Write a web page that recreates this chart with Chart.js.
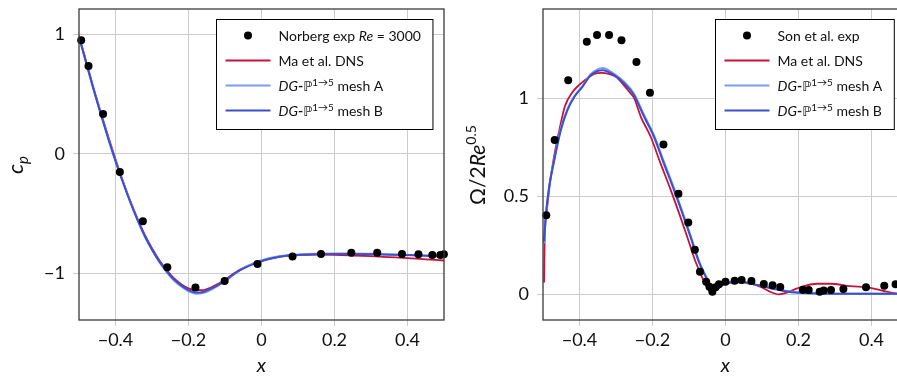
<!DOCTYPE html>
<html>
<head>
<meta charset="utf-8">
<script src="https://cdn.jsdelivr.net/npm/chart.js@4.4.1/dist/chart.umd.min.js"></script>
<style>
  body{margin:0;width:897px;height:376px;overflow:hidden;background:#fff;position:relative}
  #left{position:absolute;left:0;top:0}
  #right{position:absolute;left:450px;top:0}
</style>
</head>
<body>
<canvas id="left" width="450" height="376"></canvas>
<canvas id="right" width="470" height="376"></canvas>
<script>
// =========================
// DATA
// =========================

const ticksX  = [-0.4, -0.2, 0, 0.2, 0.4];
const ticksCp = [-1, 0, 1];
const ticksOm = [0, 0.5, 1];

// left : pressure coefficient
const cpExpX = [-0.494,-0.474,-0.434,-0.388,-0.325,-0.258,-0.181,-0.101,-0.011,0.085,0.163,0.246,0.317,0.385,0.430,0.468,0.490,0.4997];
const cpExpY = [0.951,0.736,0.335,-0.151,-0.563,-0.948,-1.119,-1.063,-0.921,-0.859,-0.837,-0.828,-0.828,-0.837,-0.840,-0.845,-0.845,-0.840];

const cpX = [-0.5,-0.49,-0.48,-0.46,-0.44,-0.42,-0.40,-0.38,-0.36,-0.34,-0.32,-0.30,-0.28,-0.26,-0.24,-0.22,-0.20,-0.18,-0.16,-0.14,
             -0.12,-0.10,-0.08,-0.06,-0.04,-0.02,0,0.02,0.04,0.06,0.08,0.10,0.15,0.20,0.25,0.30,0.35,0.40,0.45,0.50];
const cpDns   = [0.99,0.88,0.77,0.55,0.345,0.145,-0.045,-0.225,-0.39,-0.54,-0.675,-0.79,-0.89,-0.97,-1.04,-1.09,-1.125,-1.14,-1.14,-1.12,
                 -1.09,-1.055,-1.01,-0.97,-0.94,-0.915,-0.895,-0.878,-0.865,-0.856,-0.85,-0.846,-0.843,-0.845,-0.85,-0.856,-0.864,-0.872,-0.882,-0.892];
const cpMeshA = [0.98,0.87,0.76,0.54,0.335,0.135,-0.055,-0.23,-0.395,-0.55,-0.69,-0.805,-0.905,-0.99,-1.06,-1.11,-1.15,-1.17,-1.165,-1.14,
                 -1.105,-1.065,-1.02,-0.975,-0.94,-0.912,-0.89,-0.872,-0.86,-0.852,-0.846,-0.842,-0.836,-0.834,-0.834,-0.836,-0.84,-0.845,-0.85,-0.855];
const cpMeshB = [0.98,0.87,0.76,0.54,0.33,0.13,-0.06,-0.235,-0.40,-0.55,-0.685,-0.80,-0.90,-0.98,-1.05,-1.10,-1.14,-1.16,-1.155,-1.13,
                 -1.10,-1.06,-1.015,-0.975,-0.945,-0.92,-0.898,-0.88,-0.866,-0.856,-0.849,-0.845,-0.84,-0.838,-0.838,-0.84,-0.843,-0.847,-0.852,-0.858];

// right : vorticity
const omExpX = [-0.491,-0.468,-0.431,-0.380,-0.352,-0.319,-0.285,-0.244,-0.207,-0.170,-0.129,-0.102,-0.084,-0.070,-0.053,-0.044,-0.036,-0.027,
                -0.018,0.0,0.025,0.044,0.071,0.105,0.129,0.150,0.212,0.228,0.258,0.269,0.289,0.323,0.385,0.435,0.466];
const omExpY = [0.403,0.787,1.092,1.289,1.323,1.323,1.296,1.185,1.029,0.765,0.513,0.367,0.228,0.115,0.064,0.039,0.013,0.036,
                0.051,0.064,0.069,0.073,0.068,0.053,0.046,0.037,0.024,0.022,0.013,0.020,0.022,0.027,0.036,0.044,0.051];

const omDnsX = [-0.497,-0.4955,-0.49,-0.48,-0.47,-0.455,-0.44,-0.42,-0.40,-0.38,-0.36,-0.34,-0.32,-0.30,-0.28,-0.26,-0.25,-0.232,-0.205,-0.178,
                -0.150,-0.127,-0.105,-0.082,-0.06,-0.045,-0.04,-0.03,-0.02,0,0.02,0.05,0.08,0.10,0.12,0.146,0.17,0.196,0.22,0.25,
                0.287,0.342,0.397,0.433,0.47,0.5];
const omDns  = [0.06,0.28,0.42,0.58,0.70,0.84,0.96,1.03,1.07,1.10,1.125,1.13,1.125,1.11,1.07,1.025,1.0,0.906,0.804,0.668,
                0.532,0.413,0.294,0.166,0.07,0.02,0.01,0.02,0.035,0.055,0.06,0.062,0.05,0.035,0.015,0.0,0.01,0.03,0.045,0.054,
                0.054,0.042,0.033,0.017,0.003,0.0];

const omX = [-0.497,-0.492,-0.483,-0.469,-0.451,-0.433,-0.414,-0.392,-0.369,-0.337,-0.305,-0.278,-0.251,-0.223,-0.196,-0.169,-0.141,-0.118,-0.096,-0.073,
             -0.05,-0.036,-0.032,-0.02,-0.01,0,0.02,0.04,0.06,0.08,0.10,0.12,0.14,0.16,0.18,0.20,0.25,0.30,0.40,0.50];
const omMeshA = [0.26,0.40,0.55,0.69,0.85,0.945,1.01,1.062,1.123,1.155,1.125,1.085,1.025,0.915,0.812,0.678,0.542,0.42,0.302,0.172,
                 0.08,0.03,0.02,0.032,0.046,0.054,0.06,0.062,0.057,0.05,0.043,0.035,0.027,0.02,0.014,0.01,0.005,0.003,0.003,0.003];
const omMeshB = [0.27,0.41,0.55,0.685,0.838,0.94,1.008,1.059,1.119,1.144,1.119,1.077,1.017,0.906,0.804,0.668,0.532,0.413,0.294,0.166,
                 0.073,0.022,0.012,0.03,0.045,0.055,0.062,0.064,0.058,0.05,0.042,0.032,0.024,0.017,0.011,0.008,0.004,0.003,0.003,0.003];

// =========================
// STYLE
// =========================

const RED = "#c4133d";
const LIGHT = "#7b9cf2";
const DARK = "#3c50cc";
const GRID = "#cbcbcb";
const FONT = "Lato, 'DejaVu Sans', sans-serif";

const f = (size, style) => (style || "") + " " + size + "px " + FONT;

function zip(xs, ys){
  return xs.map((x,i) => ({x, y: ys[i]}));
}

function fmt(v){
  return (v < 0 ? "\u2212" : "") + Math.abs(v);
}

// text made of pieces (italic, sub / superscript)
function drawRich(ctx, parts, x, y, center){
  let w = 0;
  parts.forEach(p => { ctx.font = p.font; w += ctx.measureText(p.t).width; });
  let cx = center ? x - w/2 : x;
  parts.forEach(p => {
    ctx.font = p.font;
    ctx.fillText(p.t, cx, y + (p.dy || 0));
    cx += ctx.measureText(p.t).width;
  });
  return w;
}

function richWidth(ctx, parts){
  let w = 0;
  parts.forEach(p => { ctx.font = p.font; w += ctx.measureText(p.t).width; });
  return w;
}

function dgLabel(mesh){
  return [
    {t:"DG", font:f(14,"italic")},
    {t:"-", font:f(14,"bold")},
    {t:"\u2119", font:f(13)},
    {t:"1\u21925", font:f(10), dy:-5},
    {t:" mesh " + mesh, font:f(14)}
  ];
}

// =========================
// PLUGINS
// =========================

function boxLegend(rows, rightGap){
  return {
    id:"boxLegend",
    afterDraw(chart){
      const ctx = chart.ctx, a = chart.chartArea;
      ctx.save();
      const maxW = Math.max(...rows.map(r => richWidth(ctx, r.label)));
      const W = 62 + maxW + 12, H = 110;
      const x0 = Math.round(a.right - rightGap - W) + 0.5, y0 = a.top + 10.5;
      ctx.fillStyle = "#fff";
      ctx.fillRect(x0, y0, W, H);
      ctx.strokeStyle = "#000";
      ctx.lineWidth = 1;
      ctx.strokeRect(x0, y0, W, H);
      rows.forEach((r,i) => {
        const cy = y0 + 16 + 25*i;
        if(r.dot){
          ctx.fillStyle = "#000";
          ctx.beginPath();
          ctx.arc(x0 + 31.5, cy, 4, 0, Math.PI*2);
          ctx.fill();
        } else {
          ctx.strokeStyle = r.color;
          ctx.lineWidth = 2;
          ctx.beginPath();
          ctx.moveTo(x0 + 9, cy);
          ctx.lineTo(x0 + 54, cy);
          ctx.stroke();
        }
        ctx.fillStyle = "#111";
        ctx.textBaseline = "alphabetic";
        drawRich(ctx, r.label, x0 + 62, cy + 5, false);
      });
      ctx.restore();
    }
  };
}

function frameAndTitles(yParts, yTitleX){
  return {
    id:"frameAndTitles",
    afterDraw(chart){
      const ctx = chart.ctx, a = chart.chartArea;
      ctx.save();
      ctx.strokeStyle = "#3a3a3a";
      ctx.lineWidth = 1.3;
      ctx.strokeRect(a.left, a.top, a.right - a.left, a.bottom - a.top);

      ctx.fillStyle = "#111";
      ctx.textBaseline = "alphabetic";
      drawRich(ctx, [{t:"x", font:f(20,"italic")}], (a.left + a.right)/2, 372, true);

      ctx.translate(yTitleX, 165);
      ctx.rotate(-Math.PI/2);
      drawRich(ctx, yParts, 0, 0, true);
      ctx.restore();
    }
  };
}

// =========================
// CHART
// =========================

function makeChart(id, cfg){
  const ctx = document.getElementById(id).getContext("2d");

  return new Chart(ctx,{
    type:"scatter",
    data:{
      datasets:[
        {data:cfg.exp, backgroundColor:"#000", borderWidth:0, pointRadius:4, order:0, clip:false},
        {data:cfg.meshB, showLine:true, borderColor:DARK, borderWidth:2, pointRadius:0, order:1, cubicInterpolationMode:"monotone"},
        {data:cfg.meshA, showLine:true, borderColor:LIGHT, borderWidth:2, pointRadius:0, order:2, cubicInterpolationMode:"monotone"},
        {data:cfg.dns, showLine:true, borderColor:RED, borderWidth:1.8, pointRadius:0, order:3, cubicInterpolationMode:"monotone"}
      ]
    },
    options:{
      responsive:false,
      animation:false,
      layout:{padding:{left:0, right:cfg.padRight, top:9, bottom:0}},
      plugins:{legend:{display:false}, tooltip:{enabled:false}},
      scales:{
        x:{
          min:-0.5, max:0.5,
          afterBuildTicks: s => { s.ticks = ticksX.map(v => ({value:v})); },
          afterFit: s => { s.height = 56; s.paddingLeft = 0; s.paddingRight = 0; },
          grid:{color:GRID, lineWidth:1, tickLength:6},
          border:{display:false},
          ticks:{font:{family:FONT, size:18}, color:"#111", padding:3, maxRotation:0, callback:fmt}
        },
        y:{
          min:cfg.yMin, max:cfg.yMax,
          afterBuildTicks: s => { s.ticks = cfg.yTicks.map(v => ({value:v})); },
          afterFit: s => { s.width = cfg.yWidth; s.paddingTop = 0; s.paddingBottom = 0; },
          grid:{color:GRID, lineWidth:1, tickLength:6},
          border:{display:false},
          ticks:{font:{family:FONT, size:18}, color:"#111", padding:8, callback:fmt}
        }
      }
    },
    plugins:[frameAndTitles(cfg.yTitle, cfg.yTitleX), boxLegend(cfg.legend, cfg.legendGap)]
  });
}

makeChart("left",{
  exp: zip(cpExpX, cpExpY),
  dns: zip(cpX, cpDns),
  meshA: zip(cpX, cpMeshA),
  meshB: zip(cpX, cpMeshB),
  yMin:-1.39, yMax:1.213, yTicks:ticksCp,
  yWidth:79, padRight:6,
  yTitle:[{t:"c", font:f(22,"italic")}, {t:"p", font:f(15,"italic"), dy:5}],
  yTitleX:23,
  legendGap:12,
  legend:[
    {dot:true, label:[{t:"Norberg exp ", font:f(14)}, {t:"Re", font:f(14,"italic")}, {t:" = 3000", font:f(14)}]},
    {color:RED, label:[{t:"Ma et al. DNS", font:f(14)}]},
    {color:LIGHT, label:dgLabel("A")},
    {color:DARK, label:dgLabel("B")}
  ]
});

makeChart("right",{
  exp: zip(omExpX, omExpY),
  dns: zip(omDnsX, omDns),
  meshA: zip(omX, omMeshA),
  meshB: zip(omX, omMeshB),
  yMin:-0.131, yMax:1.456, yTicks:ticksOm,
  yWidth:93, padRight:12,
  yTitle:[{t:"\u03A9/2", font:f(21)}, {t:"Re", font:f(21,"italic")}, {t:"0.5", font:f(14), dy:-9}],
  yTitleX:35,
  legendGap:14,
  legend:[
    {dot:true, label:[{t:"Son et al. exp", font:f(14)}]},
    {color:RED, label:[{t:"Ma et al. DNS", font:f(14)}]},
    {color:LIGHT, label:dgLabel("A")},
    {color:DARK, label:dgLabel("B")}
  ]
});
</script>
</body>
</html>
